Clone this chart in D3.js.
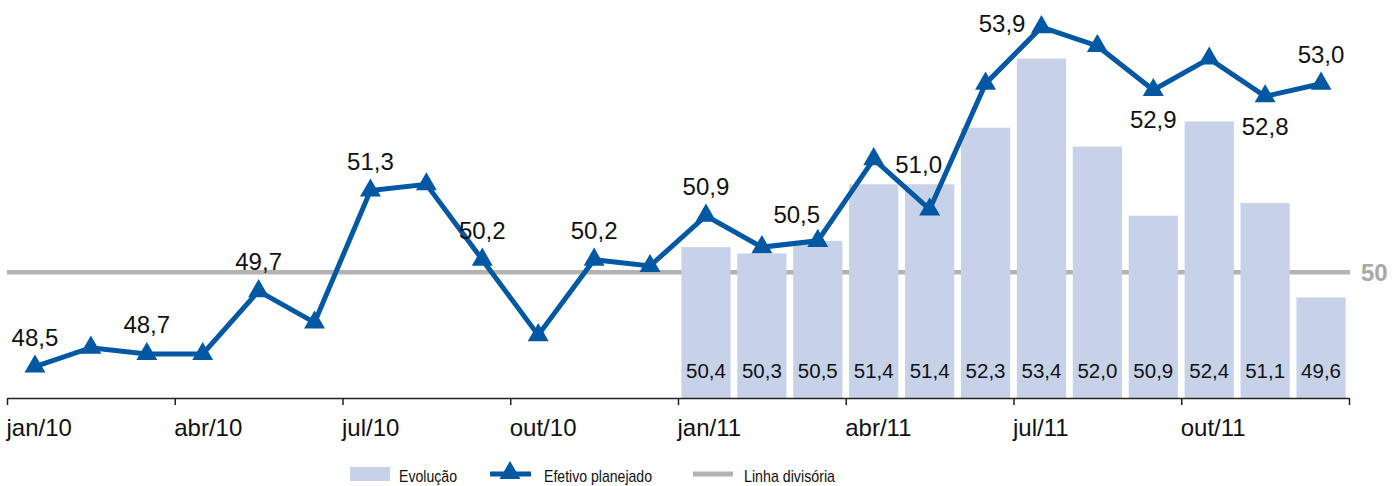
<!DOCTYPE html>
<html>
<head>
<meta charset="utf-8">
<script src="https://cdn.jsdelivr.net/npm/d3@7"></script>
<style>
  body { margin: 0; background: #fff; }
  svg { display: block; font-family: "Liberation Sans", Arial, sans-serif; }
  .axis path, .axis line { stroke: #222; stroke-width: 1.5; }
  .axis text { font-size: 24px; fill: #111; }
  .legend text { font-size: 17px; fill: #111; }
</style>
</head>
<body>
<svg width="1392" height="486"></svg>
<script>
// data
var months = ["jan/10","fev/10","mar/10","abr/10","mai/10","jun/10","jul/10","ago/10","set/10","out/10","nov/10","dez/10",
              "jan/11","fev/11","mar/11","abr/11","mai/11","jun/11","jul/11","ago/11","set/11","out/11","nov/11","dez/11"];
var planejado = [48.5, 48.8, 48.7, 48.7, 49.7, 49.2, 51.3, 51.4, 50.2, 49.0, 50.2, 50.1,
                 50.9, 50.4, 50.5, 51.8, 51.0, 53.0, 53.9, 53.6, 52.9, 53.4, 52.8, 53.0];
var evolucao = [null, null, null, null, null, null, null, null, null, null, null, null,
                50.4, 50.3, 50.5, 51.4, 51.4, 52.3, 53.4, 52.0, 50.9, 52.4, 51.1, 49.6];
var labelled = [0, 2, 4, 6, 8, 10, 12, 14, 16, 18, 20, 22, 23];
var tickLabels = ["jan/10","abr/10","jul/10","out/10","jan/11","abr/11","jul/11","out/11"];
var divisoria = 50;
var legendNames = ["Evolução", "Efetivo planejado", "Linha divisória"];

var blue = "#0058a2", barColor = "#c7d2e9", grey = "#b3b3b3";

var svg = d3.select("svg");
var fmt = function(v) { return d3.format(".1f")(v).replace(".", ","); };

// scales
var x = d3.scaleBand().domain(months).range([7, 1349]).paddingInner(0.12).paddingOuter(0.06);
var xm = d3.scaleLinear().domain([0, months.length]).range([7, 1349]);
var y = d3.scaleLinear().domain([48, 54.3]).range([398, 2]);
var cx = function(d, i) { return x(months[i]) + x.bandwidth() / 2; };

// divider line (behind bars)
svg.append("line")
    .attr("x1", 7).attr("x2", 1350)
    .attr("y1", y(divisoria)).attr("y2", y(divisoria))
    .attr("stroke", grey).attr("stroke-width", 4.5);
svg.append("text")
    .attr("x", 1361).attr("y", y(divisoria) + 9)
    .attr("font-size", 24).attr("font-weight", "bold").attr("fill", "#a8a8a8")
    .text(divisoria);

// bars
var barData = evolucao.map(function(v, i) { return {m: months[i], v: v}; }).filter(function(d) { return d.v != null; });
svg.selectAll(".bar").data(barData).enter().append("rect")
    .attr("class", "bar")
    .attr("x", function(d) { return x(d.m); })
    .attr("y", function(d) { return y(d.v); })
    .attr("width", x.bandwidth())
    .attr("height", function(d) { return y(48) - y(d.v); })
    .attr("fill", barColor);
svg.selectAll(".barlabel").data(barData).enter().append("text")
    .attr("x", function(d) { return x(d.m) + x.bandwidth() / 2; })
    .attr("y", 378)
    .attr("text-anchor", "middle")
    .attr("font-size", 20.5).attr("fill", "#111")
    .text(function(d) { return fmt(d.v); });

// x axis
var axis = svg.append("g").attr("class", "axis")
    .attr("transform", "translate(0,398)")
    .call(d3.axisBottom(xm)
      .tickValues(d3.range(0, months.length + 1, 3))
      .tickSize(7).tickSizeOuter(0)
      .tickFormat(function(d) { return tickLabels[d / 3] || ""; }));
axis.selectAll("text").attr("text-anchor", "start").attr("x", -1).attr("y", 21).attr("dy", "0.71em");

// planned line
var line = d3.line().x(cx).y(function(d) { return y(d); });
svg.append("path").datum(planejado)
    .attr("d", line)
    .attr("fill", "none").attr("stroke", blue).attr("stroke-width", 5);
var tri = d3.symbol(d3.symbolTriangle).size(190);
svg.selectAll(".pt").data(planejado).enter().append("path")
    .attr("class", "pt")
    .attr("d", tri)
    .attr("transform", function(d, i) { return "translate(" + cx(d, i) + "," + y(d) + ")"; })
    .attr("fill", blue);

// point labels (placement tweaks per month)
var place = {16: {dx: -11, dy: -36}, 14: {dx: -21, dy: -18}, 18: {dx: -16, dy: 5, anchor: "end"},
             20: {dx: 0, dy: 38}, 22: {dx: 0, dy: 39}};
svg.selectAll(".ptlabel").data(labelled).enter().append("text")
    .attr("x", function(i) { return cx(null, i) + (place[i] ? place[i].dx : 0); })
    .attr("y", function(i) { return y(planejado[i]) + (place[i] ? place[i].dy : -21); })
    .attr("text-anchor", function(i) { return place[i] && place[i].anchor ? place[i].anchor : "middle"; })
    .attr("font-size", 24).attr("fill", "#111")
    .text(function(i) { return fmt(planejado[i]); });

// legend (condensed text)
var lg = svg.append("g").attr("class", "legend");
var lgText = function(xp, s, w) {
  lg.append("text").attr("x", xp).attr("y", 482)
    .attr("textLength", w).attr("lengthAdjust", "spacingAndGlyphs").text(s);
};
lg.append("rect").attr("x", 350).attr("y", 467).attr("width", 40).attr("height", 14).attr("fill", barColor);
lgText(399, legendNames[0], 58);
lg.append("line").attr("x1", 490).attr("x2", 531).attr("y1", 474).attr("y2", 474)
    .attr("stroke", blue).attr("stroke-width", 5);
lg.append("path").attr("d", tri).attr("transform", "translate(510,473)").attr("fill", blue);
lgText(544, legendNames[1], 108);
lg.append("line").attr("x1", 693).attr("x2", 733).attr("y1", 474).attr("y2", 474)
    .attr("stroke", grey).attr("stroke-width", 5);
lgText(744, legendNames[2], 91);
</script>
</body>
</html>
